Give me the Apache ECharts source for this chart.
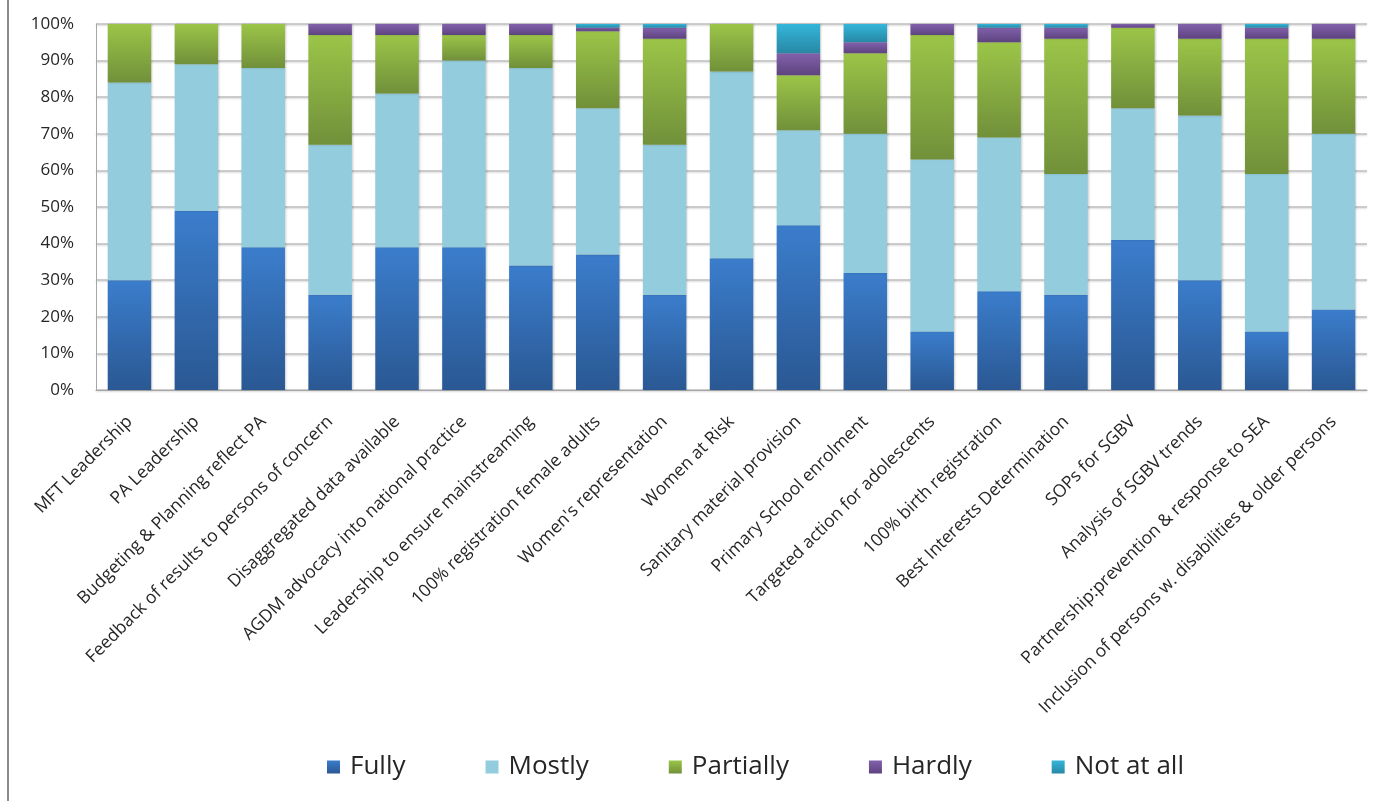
<!DOCTYPE html>
<html>
<head>
<meta charset="utf-8">
<title>AGDM indicators</title>
<script src="https://cdn.jsdelivr.net/npm/echarts@6/dist/echarts.min.js"></script>
<style>
  html, body { margin: 0; padding: 0; background: #ffffff; }
  #chart { width: 1376px; height: 801px; }
</style>
</head>
<body>
<div id="chart"></div>
<script>
// Indicator names (x axis)
const categories = [
  'MFT Leadership',
  'PA Leadership',
  'Budgeting & Planning reflect PA',
  'Feedback of results to persons of concern',
  'Disaggregated data available',
  'AGDM advocacy into national practice',
  'Leadership to ensure mainstreaming',
  '100% registration female adults',
  "Women's representation",
  'Women at Risk',
  'Sanitary material provision',
  'Primary School enrolment',
  'Targeted action for adolescents',
  '100% birth registration',
  'Best Interests Determination',
  'SOPs for SGBV',
  'Analysis of SGBV trends',
  'Partnership:prevention & response to SEA',
  'Inclusion of persons w. disabilities & older persons'
];

// Share of responses per rating, in percent
const fully     = [30, 49, 39, 26, 39, 39, 34, 37, 26, 36, 45, 32, 16, 27, 26, 41, 30, 16, 22];
const mostly    = [54, 40, 49, 41, 42, 51, 54, 40, 41, 51, 26, 38, 47, 42, 33, 36, 45, 43, 48];
const partially = [16, 11, 12, 30, 16,  7,  9, 21, 29, 13, 15, 22, 34, 26, 37, 22, 21, 37, 26];
const hardly    = [ 0,  0,  0,  3,  3,  3,  3,  1,  3,  0,  6,  3,  3,  4,  3,  1,  4,  3,  4];
const notAtAll  = [ 0,  0,  0,  0,  0,  0,  0,  1,  1,  0,  8,  5,  0,  1,  1,  0,  0,  1,  0];

const yTicks = [0, 10, 20, 30, 40, 50, 60, 70, 80, 90, 100];

const FONT = '"Open Sans", "Liberation Sans", sans-serif';

function grad(top, bottom) {
  return new echarts.graphic.LinearGradient(0, 0, 0, 1, [
    { offset: 0, color: top },
    { offset: 1, color: bottom }
  ]);
}

const seriesDefs = [
  { name: 'Fully',      data: fully,     color: grad('#3b7dcc', '#2a5893') },
  { name: 'Mostly',     data: mostly,    color: '#93cddd' },
  { name: 'Partially',  data: partially, color: grad('#9bc548', '#71903a') },
  { name: 'Hardly',     data: hardly,    color: grad('#8261ab', '#5d437f') },
  { name: 'Not at all', data: notAtAll,  color: grad('#34b6da', '#2887a5') }
];

const chart = echarts.init(document.getElementById('chart'), null, { renderer: 'canvas' });

chart.setOption({
  animation: false,
  backgroundColor: '#ffffff',
  textStyle: { fontFamily: FONT },
  graphic: [
    {
      type: 'line',
      shape: { x1: 8, y1: 0, x2: 8, y2: 801 },
      style: { stroke: '#8c8c8c', lineWidth: 2 }
    }
  ],
  legend: {
    bottom: 16,
    left: 322,
    itemWidth: 13,
    itemHeight: 13,
    itemGap: 80,
    icon: 'rect',
    textStyle: { fontSize: 26, color: '#262626', fontFamily: FONT, padding: [0, 0, 0, 5] },
    data: seriesDefs.map(s => s.name)
  },
  grid: {
    left: 96,
    right: 9,
    top: 24,
    bottom: 411,
    containLabel: false
  },
  xAxis: {
    type: 'category',
    data: categories,
    axisLine: { show: true, lineStyle: { color: '#a6a6a6', width: 1 } },
    axisTick: { show: false },
    axisLabel: {
      interval: 0,
      rotate: 45,
      margin: 29,
      fontSize: 17.5,
      color: '#262626',
      fontFamily: FONT
    }
  },
  yAxis: {
    type: 'value',
    min: yTicks[0],
    max: yTicks[yTicks.length - 1],
    interval: 10,
    axisLine: { show: true, lineStyle: { color: '#a6a6a6', width: 1 } },
    axisTick: { show: false },
    axisLabel: {
      formatter: '{value}%',
      fontSize: 17,
      color: '#262626',
      margin: 22,
      fontFamily: FONT
    },
    splitLine: {
      show: true,
      lineStyle: {
        color: '#bfbfbf',
        width: 1.5,
        shadowColor: 'rgba(0,0,0,0.18)',
        shadowBlur: 2,
        shadowOffsetY: 1
      }
    }
  },
  series: seriesDefs.map(s => ({
    name: s.name,
    type: 'bar',
    stack: 'total',
    data: s.data,
    barWidth: '65%',
    itemStyle: {
      color: s.color,
      shadowColor: 'rgba(0,0,0,0.2)',
      shadowBlur: 2,
      shadowOffsetX: 1
    },
    emphasis: { disabled: true }
  }))
});
</script>
</body>
</html>
